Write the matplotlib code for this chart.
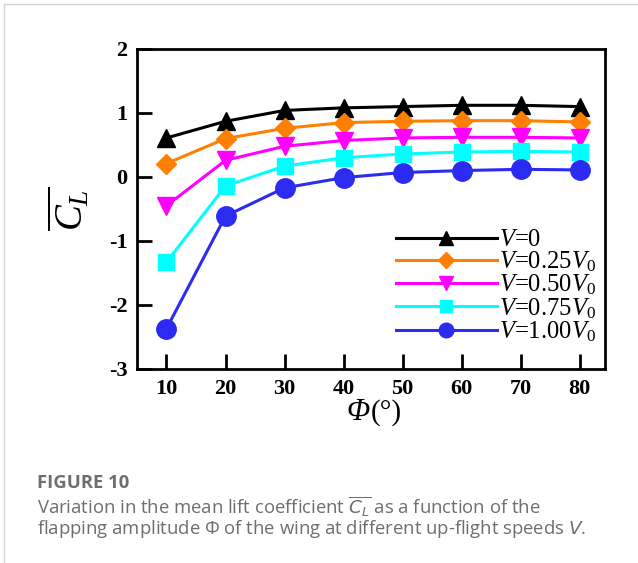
import matplotlib
matplotlib.use("Agg")
import matplotlib.pyplot as plt
from matplotlib.lines import Line2D

# ---- data ----
phi = [10, 20, 30, 40, 50, 60, 70, 80]
cl_v000 = [0.61, 0.87, 1.04, 1.08, 1.10, 1.12, 1.12, 1.10]
cl_v025 = [0.21, 0.60, 0.76, 0.85, 0.87, 0.88, 0.88, 0.86]
cl_v050 = [-0.45, 0.26, 0.48, 0.57, 0.61, 0.62, 0.62, 0.61]
cl_v075 = [-1.33, -0.14, 0.17, 0.30, 0.36, 0.39, 0.40, 0.39]
cl_v100 = [-2.37, -0.61, -0.17, -0.01, 0.07, 0.10, 0.12, 0.11]
labels = [r'$V$=0', r'$V$=0.25$V_0$', r'$V$=0.50$V_0$', r'$V$=0.75$V_0$', r'$V$=1.00$V_0$']
xticks = [10, 20, 30, 40, 50, 60, 70, 80]
yticks = [-3, -2, -1, 0, 1, 2]

plt.rcParams['font.family'] = ['Liberation Serif', 'DejaVu Serif']
plt.rcParams['mathtext.fontset'] = 'custom'
plt.rcParams['mathtext.rm'] = 'Liberation Serif'
plt.rcParams['mathtext.it'] = 'Liberation Serif:italic'
plt.rcParams['mathtext.bf'] = 'Liberation Serif:bold'
plt.rcParams['axes.unicode_minus'] = False

fig = plt.figure(figsize=(6.38, 5.63), dpi=100)
ax = fig.add_axes([0.2147, 0.3446, 0.7336, 0.5684])

series = [
    (cl_v000, 'black', '^', 13),
    (cl_v025, '#FF7F00', 'D', 10.5),
    (cl_v050, '#FF00FF', 'v', 13),
    (cl_v075, '#00FFFF', 's', 12),
    (cl_v100, '#2B2BF2', 'o', 14),
]
for (vals, col, mk, ms), lab in zip(series, labels):
    ax.plot(phi, vals, color=col, marker=mk, markersize=ms, lw=2.2,
            markeredgecolor=col, label=lab)

ax.set_xlim(5, 84.3)
ax.set_ylim(-3, 2)
ax.set_xticks(xticks)
ax.set_yticks(yticks)
ax.tick_params(direction='in', length=11, width=2, labelsize=16, pad=7)
for lbl in ax.get_xticklabels() + ax.get_yticklabels():
    lbl.set_fontweight('bold')
for sp in ax.spines.values():
    sp.set_linewidth(2)

# x label: italic Phi followed by upright (°)
ax.text(0.497, -0.1375, 'Φ', style='italic', fontsize=22, ha='right', va='center',
        transform=ax.transAxes)
ax.text(0.50, -0.1375, '(°)', fontsize=21, ha='left', va='center',
        transform=ax.transAxes)
ax.set_ylabel(r'$\overline{C_L}$', fontsize=28, labelpad=12)

leg = ax.legend(loc='lower right', bbox_to_anchor=(608/638, 1-356/563),
                bbox_transform=fig.transFigure, frameon=False, fontsize=17.7,
                handlelength=4.1, handletextpad=0.08, labelspacing=-0.06,
                borderpad=0, numpoints=1, markerscale=0.75)

# caption
cap_col = '#6e6e6e'
fig.text(37/638, 1-483/563, 'FIGURE 10', family='Open Sans', fontweight='bold',
         fontsize=13.3, color=cap_col, va='center', ha='left')
fig.text(37/638, 1-506/563,
         r'Variation in the mean lift coefficient $\overline{C_L}$ as a function of the',
         family='Open Sans', fontsize=13.3, color=cap_col, va='center', ha='left',
         math_fontfamily='dejavusans')
fig.text(37/638, 1-529/563,
         'flapping amplitude Φ of the wing at different up-flight speeds $V$.',
         family='Open Sans', fontsize=13.3, color=cap_col, va='center', ha='left',
         math_fontfamily='dejavusans')

# page frame lines
fig.add_artist(Line2D([4/638, 4/638], [0, 1-4/563], transform=fig.transFigure,
                      color='#d4d4d4', lw=1))
fig.add_artist(Line2D([4/638, 1], [1-4/563, 1-4/563], transform=fig.transFigure,
                      color='#d4d4d4', lw=1))

fig.savefig('out.png', dpi=100)
